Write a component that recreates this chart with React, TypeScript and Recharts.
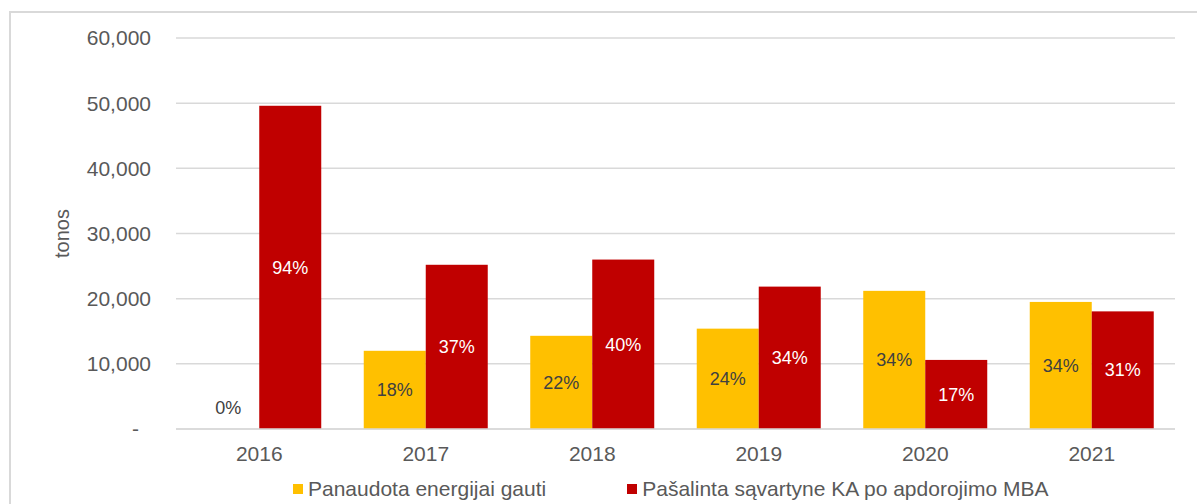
import React from 'react';
import {
  BarChart,
  Bar,
  XAxis,
  YAxis,
  CartesianGrid,
} from 'recharts';

const YEARS = ['2016', '2017', '2018', '2019', '2020', '2021'];
const ENERGY = [0, 12000, 14300, 15400, 21200, 19500];
const LANDFILL = [49600, 25200, 26000, 21850, 10600, 18050];
const ENERGY_PCT = [0, 18, 22, 24, 34, 34];
const LANDFILL_PCT = [94, 37, 40, 34, 17, 31];
const Y_TICKS = [0, 10000, 20000, 30000, 40000, 50000, 60000];

const SERIES_NAMES = ['Panaudota energijai gauti', 'Pašalinta sąvartyne KA po apdorojimo MBA'];
const COLORS = ['#FFC000', '#C00000'];

const FONT = '"Liberation Sans", Arial, sans-serif';
const GRAY = '#595959';

const data = YEARS.map((year, i) => ({
  year,
  energy: ENERGY[i],
  landfill: LANDFILL[i],
  energyPct: ENERGY_PCT[i],
  landfillPct: LANDFILL_PCT[i],
}));

const YTick = ({ x, y, payload }: any) => {
  const v = payload.value;
  const text = v === 0 ? '-' : v.toLocaleString('en-US');
  return (
    <text
      x={x}
      y={y}
      dx={v === 0 ? -12 : 0}
      dy="0.355em"
      textAnchor="end"
      fill={GRAY}
      fontSize={21}
      fontFamily={FONT}
    >
      {text}
    </text>
  );
};

// bar + its percentage label, drawn together so a zero bar still gets "0%"
const makeShape = (pctKey: string, labelColor: string) => (props: any) => {
  const { x, y, width, height, fill, payload } = props;
  const cx = x + width / 2;
  const cy = height > 1 ? y + height / 2 : y - 21;
  return (
    <g>
      {height > 0 && <rect x={x} y={y} width={width} height={height} fill={fill} />}
      <text
        x={cx}
        y={cy}
        dy="0.35em"
        textAnchor="middle"
        fill={labelColor}
        fontSize={18}
        fontFamily={FONT}
      >
        {payload[pctKey]}%
      </text>
    </g>
  );
};

const AxisTitle = ({ viewBox }: any) => {
  const x = viewBox.x - 14;
  const y = viewBox.y + viewBox.height / 2;
  return (
    <text
      x={x}
      y={y}
      transform={`rotate(-90, ${x}, ${y})`}
      textAnchor="middle"
      dy="0.35em"
      fill={GRAY}
      fontSize={20}
      fontFamily={FONT}
    >
      tonos
    </text>
  );
};

const ChartLegend = () => (
  <div
    style={{
      position: 'absolute',
      left: 293,
      top: 478,
      display: 'flex',
      alignItems: 'center',
      height: 22,
      fontFamily: FONT,
      fontSize: 21,
      color: GRAY,
    }}
  >
    {SERIES_NAMES.map((name, i) => (
      <div
        key={name}
        style={{ display: 'flex', alignItems: 'center', marginRight: i === 0 ? 81 : 0 }}
      >
        <span
          style={{ width: 10, height: 10, background: COLORS[i], marginRight: 5, display: 'inline-block' }}
        />
        <span style={{ lineHeight: '22px', whiteSpace: 'nowrap' }}>{name}</span>
      </div>
    ))}
  </div>
);

export default function App() {
  return (
    <div style={{ position: 'fixed', left: 0, top: 0, width: 1197, height: 504, overflow: 'hidden', background: '#fff' }}>
      <div
        style={{
          position: 'absolute',
          left: 9,
          top: 11,
          width: 1300,
          height: 600,
          border: '2px solid #d9d9d9',
        }}
      />
      <BarChart
        width={1197}
        height={504}
        data={data}
        margin={{ top: 38, right: 22, bottom: 45, left: 76 }}
        barCategoryGap="12.76%"
        barGap={0}
      >
        <CartesianGrid vertical={false} stroke="#d9d9d9" strokeWidth={1.5} />
        <XAxis
          dataKey="year"
          height={30}
          axisLine={{ stroke: '#d9d9d9', strokeWidth: 1.5 }}
          tickLine={false}
          tickSize={0}
          tickMargin={17}
          tick={{ fill: GRAY, fontSize: 21, fontFamily: FONT }}
        />
        <YAxis
          width={100}
          domain={[0, 60000]}
          ticks={Y_TICKS}
          axisLine={false}
          tickLine={false}
          tickSize={0}
          tickMargin={25}
          tick={<YTick />}
          label={<AxisTitle />}
        />
        <Bar
          dataKey="energy"
          name={SERIES_NAMES[0]}
          fill={COLORS[0]}
          isAnimationActive={false}
          shape={makeShape('energyPct', '#404040')}
        />
        <Bar
          dataKey="landfill"
          name={SERIES_NAMES[1]}
          fill={COLORS[1]}
          isAnimationActive={false}
          shape={makeShape('landfillPct', '#ffffff')}
        />
      </BarChart>
      <ChartLegend />
    </div>
  );
}
